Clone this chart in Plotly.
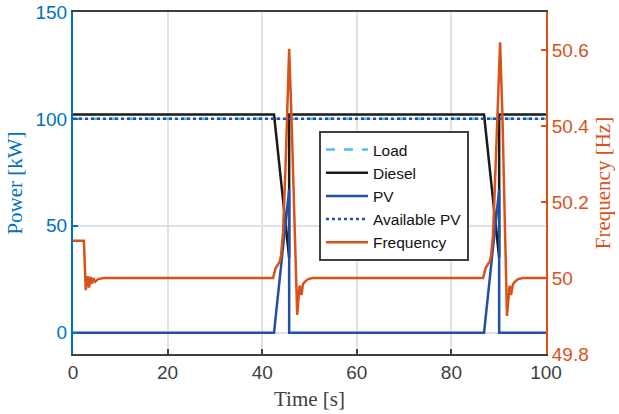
import plotly.graph_objects as go

# Power traces (kW)
t_load = [0, 100]
load_kw = [100, 100]

t_diesel = [0, 42.5, 45.7, 45.7, 86.9, 90.1, 90.1, 100]
diesel_kw = [102, 102, 35, 102, 102, 35, 102, 102]

t_pv = [0, 42.5, 45.7, 45.7, 86.9, 90.1, 90.1, 100]
pv_kw = [0, 0, 67, 0, 0, 67, 0, 0]

t_avail = [0, 100]
avail_pv_kw = [100, 100]

# Grid frequency (Hz)
t_freq = [0, 2.3, 2.7, 3.1, 3.4, 3.7, 4.0, 4.3, 4.7, 5.3, 6.5,
          42.3, 42.8, 43.3, 43.7, 44.0, 44.4, 44.9, 45.3, 45.7,
          46.2, 46.7, 47.1, 47.4, 47.9, 48.3, 48.6, 49.0, 49.7, 50.7,
          86.7, 87.2, 87.7, 88.1, 88.4, 88.8, 89.3, 89.8, 90.3,
          90.8, 91.2, 91.5, 91.75, 92.3, 92.6, 93.0, 93.4, 94.1, 95.1, 100]
freq_hz = [50.098, 50.098, 49.968, 50.005, 49.975, 50.003, 49.985, 50.0, 49.99, 49.997, 50.0,
           50.0, 50.025, 50.036, 50.043, 50.06, 50.12, 50.28, 50.44, 50.603,
           50.42, 50.18, 49.98, 49.903, 49.98, 49.955, 49.983, 49.99, 49.997, 50.0,
           50.0, 50.025, 50.036, 50.043, 50.06, 50.113, 50.28, 50.45, 50.62,
           50.42, 50.18, 49.98, 49.90, 49.98, 49.955, 49.983, 49.99, 49.997, 50.0, 50.0]

x_ticks = [0, 20, 40, 60, 80, 100]
power_ticks = [0, 50, 100, 150]
freq_ticks = [49.8, 50.0, 50.2, 50.4, 50.6]
freq_ticktext = ["49.8", "50", "50.2", "50.4", "50.6"]

BLUE_AX = "#0072BD"
ORANGE = "#D95319"
PV_BLUE = "#2150A8"
CYAN = "#4DBEEE"
GRAY = "#404040"

fig = go.Figure()
fig.add_trace(go.Scatter(x=t_load, y=load_kw, name="Load", mode="lines",
                         line=dict(color=CYAN, width=2.5, dash="dash")))
fig.add_trace(go.Scatter(x=t_diesel, y=diesel_kw, name="Diesel", mode="lines",
                         line=dict(color="#1a1a1a", width=2.5)))
fig.add_trace(go.Scatter(x=t_pv, y=pv_kw, name="PV", mode="lines",
                         line=dict(color=PV_BLUE, width=2.5)))
fig.add_trace(go.Scatter(x=t_avail, y=avail_pv_kw, name="Available PV", mode="lines",
                         line=dict(color=PV_BLUE, width=2.5, dash="dot")))
fig.add_trace(go.Scatter(x=t_freq, y=freq_hz, name="Frequency", mode="lines",
                         yaxis="y2", line=dict(color=ORANGE, width=2.5)))

tick_font = dict(family="Liberation Sans, Arial, sans-serif", size=19)
title_font = "Liberation Serif, Times New Roman, serif"

fig.update_layout(
    width=619, height=414,
    margin=dict(l=73, r=73, t=12, b=60),
    paper_bgcolor="white", plot_bgcolor="white",
    xaxis=dict(
        range=[0, 100], tickvals=x_ticks, automargin=False,
        showline=True, linecolor=GRAY, linewidth=2, mirror=True,
        ticks="inside", ticklen=5, tickwidth=1.5, tickcolor=GRAY,
        showgrid=True, gridcolor="#E2E2E2", gridwidth=1.5, zeroline=False,
        tickfont=dict(color=GRAY, **tick_font),
        title=dict(text="Time [s]", font=dict(family=title_font, size=21, color=GRAY),
                   standoff=10),
    ),
    yaxis=dict(
        range=[-10, 150], tickvals=power_ticks, automargin=False,
        showline=True, linecolor=BLUE_AX, linewidth=2,
        ticks="inside", ticklen=5, tickwidth=1.5, tickcolor=BLUE_AX,
        showgrid=True, gridcolor="#DCE2EC", gridwidth=1.5, zeroline=False,
        tickfont=dict(color=BLUE_AX, **tick_font),
        title=dict(text="Power [kW]", font=dict(family=title_font, size=21, color=BLUE_AX),
                   standoff=7),
    ),
    yaxis2=dict(
        range=[49.8, 50.7], tickvals=freq_ticks, ticktext=freq_ticktext,
        overlaying="y", side="right", automargin=False,
        showline=True, linecolor=ORANGE, linewidth=2,
        ticks="inside", ticklen=5, tickwidth=1.5, tickcolor=ORANGE,
        showgrid=False, zeroline=False,
        tickfont=dict(color=ORANGE, **tick_font),
        title=dict(text="Frequency [Hz]", font=dict(family=title_font, size=21, color=ORANGE),
                   standoff=7),
    ),
    legend=dict(
        x=0.52, y=0.652, xanchor="left", yanchor="top",
        bgcolor="white", bordercolor=GRAY, borderwidth=2,
        font=dict(family="Liberation Sans, Arial, sans-serif", size=15.5, color="#111111"),
        tracegroupgap=0, itemwidth=42,
    ),
    showlegend=True,
)

fig.write_html("out.html")
